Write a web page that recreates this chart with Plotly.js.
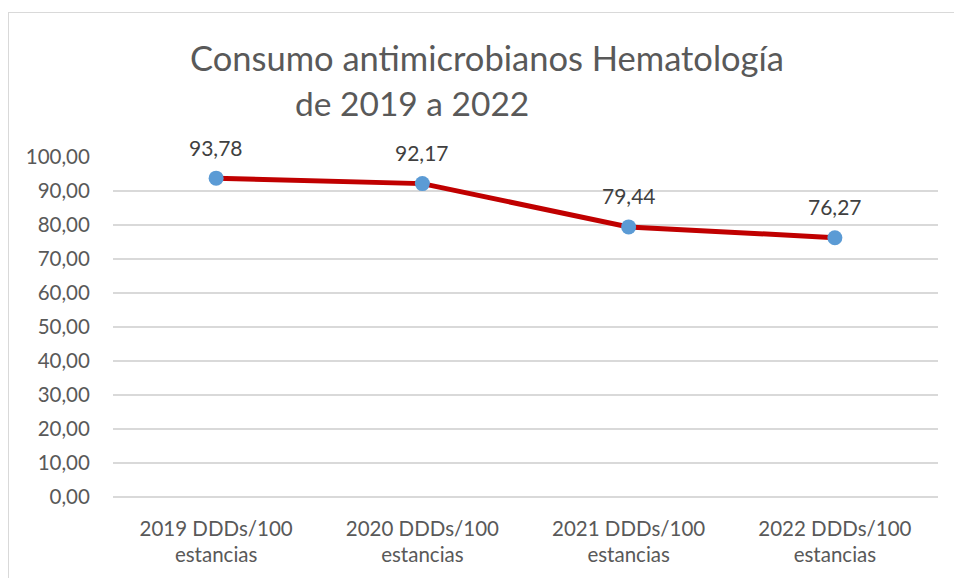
<!DOCTYPE html>
<html>
<head>
<meta charset="utf-8">
<script src="https://cdn.plot.ly/plotly-3.0.1.min.js"></script>
<style>
  body { margin: 0; background: #fff; }
  #frame { position: absolute; left: 8px; top: 12px; width: 960px; height: 580px;
           border-left: 1px solid #d9d9d9; border-top: 1px solid #d9d9d9; }
  #chart { position: absolute; left: 0; top: 0; width: 954px; height: 578px; }
</style>
</head>
<body>
<div id="frame"></div>
<div id="chart"></div>
<script>
// categories and values
let years = ['2019', '2020', '2021', '2022'];
let categories = years.map(y => y + ' DDDs/100<br>estancias');
let consumo = [93.78, 92.17, 79.44, 76.27];
let yTicks = [0, 10, 20, 30, 40, 50, 60, 70, 80, 90, 100];

let trace = {
  x: categories,
  y: consumo,
  type: 'scatter',
  mode: 'lines+markers',
  line: { color: '#C00000', width: 5 },
  marker: { color: '#5B9BD5', size: 15 },
  hoverinfo: 'skip'
};

// data labels above each point
let labels = categories.map((c, i) => ({
  x: c, y: consumo[i], xref: 'x', yref: 'y',
  text: consumo[i].toFixed(2).replace('.', ','),
  showarrow: false, yanchor: 'middle', yshift: 31,
  font: { size: 21, color: '#404040' }
}));

let layout = {
  width: 954,
  height: 578,
  margin: { l: 113, r: 16, t: 157, b: 81 },
  paper_bgcolor: 'rgba(0,0,0,0)',
  plot_bgcolor: 'rgba(0,0,0,0)',
  separators: ',.',
  showlegend: false,
  font: { family: 'Lato, sans-serif', color: '#595959' },
  xaxis: {
    type: 'category',
    range: [-0.5, 3.5],
    showgrid: false,
    zeroline: false,
    showline: false,
    tickfont: { size: 20.5, color: '#595959' },
    ticks: 'outside', ticklen: 13, tickcolor: 'rgba(0,0,0,0)'
  },
  yaxis: {
    range: [0, 100],
    tickvals: yTicks,
    tickformat: '.2f',
    showgrid: true,
    gridcolor: '#d9d9d9',
    gridwidth: 1.3,
    zeroline: true,
    zerolinecolor: '#d9d9d9',
    zerolinewidth: 1.3,
    showline: false,
    tickfont: { size: 20.5, color: '#595959' },
    ticks: 'outside', ticklen: 18, tickcolor: 'rgba(0,0,0,0)'
  },
  annotations: [
    {
      text: 'Consumo antimicrobianos Hematología',
      xref: 'paper', yref: 'paper', x: 0.453, y: 1.294,
      xanchor: 'center', yanchor: 'middle', showarrow: false,
      font: { size: 34.5, color: '#595959' }
    },
    {
      text: 'de 2019 a 2022',
      xref: 'paper', yref: 'paper', x: 0.362, y: 1.159,
      xanchor: 'center', yanchor: 'middle', showarrow: false,
      font: { size: 33.5, color: '#595959' }
    }
  ].concat(labels)
};

Plotly.newPlot('chart', [trace], layout, { displayModeBar: false, staticPlot: true });
</script>
</body>
</html>
